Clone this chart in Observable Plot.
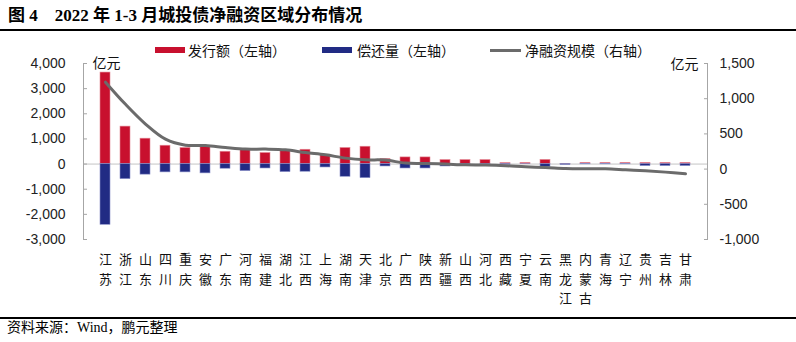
<!DOCTYPE html>
<html><head><meta charset="utf-8">
<script src="https://cdn.jsdelivr.net/npm/d3@7"></script>
<script src="https://cdn.jsdelivr.net/npm/@observablehq/plot@0.6"></script>
<style>
html,body{margin:0;padding:0;background:#fff;}
body{width:796px;height:342px;position:relative;overflow:hidden;font-family:"Noto Sans CJK SC",sans-serif;color:#000;}
#title{position:absolute;left:8px;top:4px;font-weight:bold;font-size:17px;font-family:"Liberation Serif","Noto Sans CJK SC",serif;white-space:pre;line-height:24px;}
.hr{position:absolute;left:0;width:796px;background:#000;}
.lg{position:absolute;top:41px;height:18px;line-height:18px;font-size:14px;color:#111;font-family:"Noto Sans CJK SC",sans-serif;}
.sw{position:absolute;}
#chart{position:absolute;left:0;top:40px;}
#foot{position:absolute;left:7px;top:318px;font-size:14px;line-height:20px;font-family:"Liberation Serif","Noto Sans CJK SC",serif;white-space:pre;}
</style>
</head><body>
<div id="title">图 4    2022 年 1-3 月城投债净融资区域分布情况</div>
<div class="hr" style="top:29px;height:2px"></div>
<div class="sw" style="left:155px;top:47px;width:30px;height:6px;background:#c8102e"></div>
<div class="lg" style="left:188px">发行额（左轴）</div>
<div class="sw" style="left:322px;top:47px;width:30px;height:6px;background:#212b84"></div>
<div class="lg" style="left:357px">偿还量（左轴）</div>
<div class="sw" style="left:490px;top:48.5px;width:31px;height:3px;background:#6b6b6b"></div>
<div class="lg" style="left:525px">净融资规模（右轴）</div>
<div id="chart"></div>
<div class="hr" style="top:317px;height:1.5px"></div>
<div id="foot">资料来源：Wind，鹏元整理</div>
<script>
const regions = ["江苏","浙江","山东","四川","重庆","安徽","广东","河南","福建","湖北","江西","上海","湖南","天津","北京","广西","陕西","新疆","山西","河北","西藏","宁夏","云南","黑龙江","内蒙古","青海","辽宁","贵州","吉林","甘肃"];
const issuance = [3640,1490,1010,730,640,700,490,560,440,555,570,370,640,690,200,265,265,160,160,160,40,45,165,5,45,45,45,45,45,45];
const repayment = [2415,600,420,330,330,370,185,280,175,320,305,135,505,560,95,175,175,95,25,25,25,5,120,35,10,10,10,80,80,80];
const netFinancing = [1235,920,640,425,340,335,307,284,284,274,235,203,156,132,128,85,80,71,61,57,48,33,23,8,4,4,-10,-24,-43,-67];
const leftTicks = [-3000,-2000,-1000,0,1000,2000,3000,4000];
const rightTicks = [-1000,-500,0,500,1000,1500];
const unitLabel = "亿元";

const data = regions.map((r,i)=>({region:r, iss:issuance[i], rep:repayment[i], net:netFinancing[i]}));
// right axis [-1000,1500] shares the plot height with left axis [-3000,4000]
const toLeft = v => -3000 + (v + 1000) * 7000 / 2500;
const fromLeft = v => (v + 3000) * 2500 / 7000 - 1000;
const fmt = v => Math.round(v).toLocaleString("en-US");
const axisGray = "#a6a6a6";

const chart = Plot.plot({
  width: 796, height: 270,
  marginLeft: 83, marginRight: 89, marginTop: 23, marginBottom: 71,
  style: {fontFamily: "'Liberation Sans', Arial, 'Noto Sans CJK SC', sans-serif", fontSize: "14px", color: "#222", background: "transparent", overflow: "visible"},
  x: {domain: regions, paddingInner: 0.5, paddingOuter: 0.25, align: 0.5},
  y: {domain: [-3000, 4000]},
  marks: [
    Plot.ruleY([0], {stroke: "#c4c4c4", strokeWidth: 1}),
    Plot.barY(data, {x: "region", y: "iss", fill: "#c8102e", stroke: "#e58a96", strokeWidth: 0.6}),
    Plot.barY(data, {x: "region", y: d => -d.rep, fill: "#212b84", stroke: "#8a90c8", strokeWidth: 0.6}),
    Plot.line(data, {x: "region", y: d => toLeft(d.net), stroke: "#6b6b6b", strokeWidth: 3, curve: "catmull-rom"}),
    Plot.frame({anchor: "left", stroke: axisGray}),
    Plot.frame({anchor: "right", stroke: axisGray}),
    Plot.axisY(leftTicks, {anchor: "left", tickFormat: fmt, tickSize: -4, tickPadding: 22, stroke: axisGray, fill: "#222", label: null, fontSize: 14}),
    Plot.axisY(rightTicks.map(toLeft), {anchor: "right", tickFormat: v => fmt(fromLeft(v)), tickSize: -4, tickPadding: 16, stroke: axisGray, fill: "#222", label: null, fontSize: 14}),
    Plot.axisX({tickSize: 0, tickPadding: 11, tickFormat: d => [...d].join("\n"), lineHeight: 1.5, fontSize: 13, fontFamily: "'Noto Sans CJK SC', sans-serif", fill: "#111", label: null}),
    Plot.text([unitLabel], {frameAnchor: "top-left", text: d => d, dx: 9, textAnchor: "start", lineAnchor: "middle", fontSize: 14, fontFamily: "'Noto Sans CJK SC', sans-serif", fill: "#111"}),
    Plot.text([unitLabel], {frameAnchor: "top-right", text: d => d, dx: -9, dy: 1, textAnchor: "end", lineAnchor: "middle", fontSize: 14, fontFamily: "'Noto Sans CJK SC', sans-serif", fill: "#111"})
  ]
});
document.getElementById("chart").appendChild(chart);
</script>
</body></html>
